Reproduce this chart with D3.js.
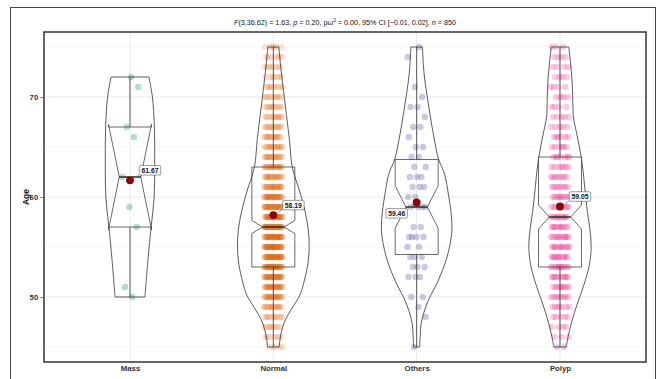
<!DOCTYPE html>
<html>
<head>
<meta charset="utf-8">
<script src="https://cdn.jsdelivr.net/npm/d3@7"></script>
<style>
  html, body { margin: 0; padding: 0; background: #ffffff; }
  svg { display: block; font-family: "Liberation Sans", Arial, Helvetica, sans-serif; }
</style>
</head>
<body>
<svg id="chart" width="659" height="379"></svg>
<script>
// ---------------- data ----------------
const categories = ["Mass", "Normal", "Others", "Polyp"];
const colors = ["#1B9E77", "#D95F02", "#7570B3", "#E7298A"];
const ages = [45,46,47,48,49,50,51,52,53,54,55,56,57,58,59,60,61,62,63,64,65,66,67,68,69,70,71,72,73,74,75];
// number of patients at each age (read from the jittered points)
const massCounts   = [0,0,0,0,0,1,1,0,0,0,0,0,1,0,1,0,0,1,0,0,0,1,1,0,0,0,1,1,0,0,0];
const normalCounts = [5,7,9,11,16,23,26,30,33,35,36,36,35,33,30,28,23,19,19,18,16,15,13,12,11,10,9,7,8,7,6];
const othersCounts = [1,0,0,1,1,2,0,3,3,3,2,4,2,0,4,2,3,3,2,2,2,1,2,1,2,1,1,0,0,1,1];
const polypCounts  = [2,3,4,5,7,8,9,10,11,11,11,11,10,10,9,9,8,8,7,7,6,6,5,5,4,4,4,4,4,4,3];

// box statistics
const q1Values      = [57, 53, 54.25, 53];
const medianValues  = [62, 57, 59, 58];
const q3Values      = [67, 63, 63.75, 64];
const whiskerLow    = [50, 45, 45, 45];
const whiskerHigh   = [72, 75, 75, 75];
const meanValues    = [61.67, 58.19, 59.46, 59.05];

// violin outlines: age and relative density
const massViolinAges     = [50, 54, 57, 60, 63.5, 67, 70, 72];
const massViolinDensity  = [15, 18.3, 21.2, 24.3, 24.8, 24.5, 22.5, 19];
const normalViolinAges   = [45, 45.8, 46.8, 47.8, 48.8, 50.2, 51.5, 53.5, 55.2, 56.8, 58.5, 60.4, 63, 65.7, 69, 72.3, 75];
const normalViolinDensity= [5.8, 6.8, 8.8, 12.5, 18.3, 26.7, 30.8, 35, 36, 35, 32, 27, 19, 16.2, 12.2, 8.2, 5.5];
const othersViolinAges   = [45, 46, 47.5, 49.5, 51.5, 53.5, 55.5, 56.8, 58.5, 60.2, 62.3, 63.8, 65.7, 69, 72.3, 75];
const othersViolinDensity= [3, 3.5, 4.8, 11, 21, 29, 34, 35.5, 34.5, 32, 28, 22, 17.8, 12.2, 7.5, 5.8];
const polypViolinAges    = [45, 46.2, 47.5, 49.5, 51.5, 53.5, 55.2, 56.8, 58.5, 60.5, 62.3, 64, 66, 68, 69, 71.3, 73, 75];
const polypViolinDensity = [6.2, 8.5, 11.7, 18, 25, 30, 31.3, 30, 27.5, 25.3, 23.5, 21.3, 17.5, 13.5, 13, 12.3, 11, 8.8];

const yTicks = [50, 60, 70];
const yMinorTicks = [45, 55, 65, 75];
const yTitle = "Age";

// ---------------- layout ----------------
const svg = d3.select("#chart");
const panel = { left: 44, right: 646, top: 32, bottom: 362 };

const x = d3.scalePoint().domain(categories).range([panel.left, panel.right]).padding(0.6);
const y = d3.scaleLinear().domain([43.5, 76.5]).range([panel.bottom, panel.top]);
const step = x.step();
const wScale = d3.scaleLinear().domain([0, 36]).range([0, 0.25 * step]);
const boxHalf = 0.15 * step;
const jitterHalf = 0.065 * step;

// outer frame
svg.append("rect").attr("x", 10.5).attr("y", 7.5).attr("width", 645).attr("height", 390)
  .attr("fill", "none").attr("stroke", "#444").attr("stroke-width", 1);

// gridlines
const grid = svg.append("g");
grid.selectAll("line.minor").data(yMinorTicks).join("line")
  .attr("x1", panel.left).attr("x2", panel.right)
  .attr("y1", d => y(d)).attr("y2", d => y(d))
  .attr("stroke", "#f0f0f0").attr("stroke-width", 0.6);
grid.selectAll("line.major").data(yTicks).join("line")
  .attr("x1", panel.left).attr("x2", panel.right)
  .attr("y1", d => y(d)).attr("y2", d => y(d))
  .attr("stroke", "#e8e8e8").attr("stroke-width", 1);
grid.selectAll("line.vert").data(categories).join("line")
  .attr("x1", d => x(d)).attr("x2", d => x(d))
  .attr("y1", panel.top).attr("y2", panel.bottom)
  .attr("stroke", "#e8e8e8").attr("stroke-width", 1);

// ---------------- points ----------------
const countSets = [massCounts, normalCounts, othersCounts, polypCounts];
const pts = [];
countSets.forEach((counts, gi) => {
  let k = 0;
  counts.forEach((c, ai) => {
    for (let j = 0; j < c; j++) {
      k++;
      const u = ((k * 0.6180339887 + gi * 0.37) % 1) * 2 - 1;
      pts.push({ g: gi, age: ages[ai], off: u });
    }
  });
});
const opac = [0.35, 0.16, 0.38, 0.24];
svg.append("g").selectAll("circle").data(pts).join("circle")
  .attr("cx", d => x(categories[d.g]) + d.off * jitterHalf)
  .attr("cy", d => y(d.age))
  .attr("r", 3.2)
  .attr("fill", d => colors[d.g])
  .attr("fill-opacity", d => opac[d.g]);

// ---------------- violins ----------------
const violinAges = [massViolinAges, normalViolinAges, othersViolinAges, polypViolinAges];
const violinDens = [massViolinDensity, normalViolinDensity, othersViolinDensity, polypViolinDensity];
const vg = svg.append("g");
categories.forEach((cat, gi) => {
  const cx = x(cat);
  const prof = violinAges[gi].map((a, i) => ({ a, d: violinDens[gi][i] }));
  const area = d3.area()
    .y(d => y(d.a))
    .x0(d => cx - wScale(d.d))
    .x1(d => cx + wScale(d.d))
    .curve(d3.curveCatmullRom.alpha(0.5));
  vg.append("path").attr("d", area(prof))
    .attr("fill", "none").attr("stroke", "#333").attr("stroke-width", 0.8);
});

// ---------------- boxes ----------------
const bg = svg.append("g");
categories.forEach((cat, gi) => {
  const cx = x(cat);
  const counts = countSets[gi];
  const n = d3.sum(counts);
  const iqr = q3Values[gi] - q1Values[gi];
  const notch = 1.58 * iqr / Math.sqrt(n);
  const mid = medianValues[gi];
  const nu = mid + notch, nl = mid - notch;
  const xmin = cx - boxHalf, xmax = cx + boxHalf;
  const indent = 0.5 * boxHalf;
  const poly = [
    [xmin, y(q3Values[gi])], [xmin, y(nu)], [xmin + indent, y(mid)], [xmin, y(nl)], [xmin, y(q1Values[gi])],
    [xmax, y(q1Values[gi])], [xmax, y(nl)], [xmax - indent, y(mid)], [xmax, y(nu)], [xmax, y(q3Values[gi])]
  ];
  bg.append("line").attr("x1", cx).attr("x2", cx)
    .attr("y1", y(q3Values[gi])).attr("y2", y(whiskerHigh[gi]))
    .attr("stroke", "#333").attr("stroke-width", 0.8);
  bg.append("line").attr("x1", cx).attr("x2", cx)
    .attr("y1", y(q1Values[gi])).attr("y2", y(whiskerLow[gi]))
    .attr("stroke", "#333").attr("stroke-width", 0.8);
  bg.append("path").attr("d", "M" + poly.map(p => p.join(",")).join("L") + "Z")
    .attr("fill", "none").attr("stroke", "#444").attr("stroke-width", 0.8);
  bg.append("line").attr("x1", xmin + indent).attr("x2", xmax - indent)
    .attr("y1", y(mid)).attr("y2", y(mid))
    .attr("stroke", "#333").attr("stroke-width", 1.6);
});

// ---------------- means + labels ----------------
const labelSide = [1, 1, -1, 1];
const mg = svg.append("g");
categories.forEach((cat, gi) => {
  const mx = x(cat), my = y(meanValues[gi]);
  const side = labelSide[gi];
  const lx = mx + side * 20, ly = my + (side > 0 ? -10 : 11);
  const t = mg.append("text").attr("x", lx).attr("y", ly + 2.4)
    .attr("text-anchor", "middle").attr("font-size", 6.8).attr("font-weight", "bold")
    .attr("fill", "#111").text(meanValues[gi].toFixed(2));
  const tw = t.node().getComputedTextLength();
  const rw = tw + 4.5, rh = 9.5;
  const rx0 = lx - rw / 2, ry0 = ly - rh / 2;
  const ex = side > 0 ? rx0 : rx0 + rw;
  const ey = side > 0 ? ry0 + rh : ry0;
  mg.insert("line", "text").attr("x1", mx).attr("y1", my).attr("x2", ex).attr("y2", ey)
    .attr("stroke", "#666").attr("stroke-width", 0.6);
  mg.insert("rect", "text").attr("x", rx0).attr("y", ry0).attr("width", rw).attr("height", rh)
    .attr("rx", 1.5).attr("fill", "#fff").attr("stroke", "#333").attr("stroke-width", 0.5);
  mg.append("circle").attr("cx", mx).attr("cy", my).attr("r", 3.9).attr("fill", "#8B0000");
  t.raise();
});

// ---------------- panel border & axes ----------------
svg.append("rect").attr("x", panel.left).attr("y", panel.top)
  .attr("width", panel.right - panel.left).attr("height", panel.bottom - panel.top)
  .attr("fill", "none").attr("stroke", "#333").attr("stroke-width", 1.5);

const yAxis = d3.axisLeft(y).tickValues(yTicks).tickSize(3).tickPadding(2).tickFormat(d3.format("d"));
const ya = svg.append("g").attr("transform", `translate(${panel.left - 0.75},0)`).call(yAxis);
ya.select(".domain").remove();
ya.selectAll(".tick line").attr("stroke", "#333").attr("stroke-width", 0.6);
ya.selectAll(".tick text").attr("font-size", 7.8).attr("font-weight", "bold").attr("fill", "#333")
  .attr("font-family", "Liberation Sans, Arial, sans-serif");

const xAxis = d3.axisBottom(x).tickSize(0).tickPadding(3);
const xa = svg.append("g").attr("transform", `translate(0,${panel.bottom})`).call(xAxis);
xa.select(".domain").remove();
xa.selectAll(".tick text").attr("font-size", 7.8).attr("font-weight", "bold").attr("fill", "#333")
  .attr("font-family", "Liberation Sans, Arial, sans-serif");

svg.append("text").attr("transform", `translate(29,${(panel.top + panel.bottom) / 2}) rotate(-90)`)
  .attr("text-anchor", "middle").attr("font-size", 8.5).attr("font-weight", "bold").attr("fill", "#111")
  .text(yTitle);

// ---------------- subtitle ----------------
const sub = svg.append("text").attr("x", (panel.left + panel.right) / 2).attr("y", 25)
  .attr("text-anchor", "middle").attr("font-size", 7.2).attr("fill", "#111");
sub.append("tspan").attr("font-style", "italic").text("F");
sub.append("tspan").text("(3,36.62) = 1.63, ");
sub.append("tspan").attr("font-style", "italic").text("p");
sub.append("tspan").text(" = 0.20, ");
sub.append("tspan").text("pω");
sub.append("tspan").attr("font-size", 5).attr("dy", -3).text("2");
sub.append("tspan").attr("dy", 3).text(" = 0.00, 95% CI [−0.01, 0.02], ");
sub.append("tspan").attr("font-style", "italic").text("n");
sub.append("tspan").text(" = 850");
</script>
</body>
</html>
